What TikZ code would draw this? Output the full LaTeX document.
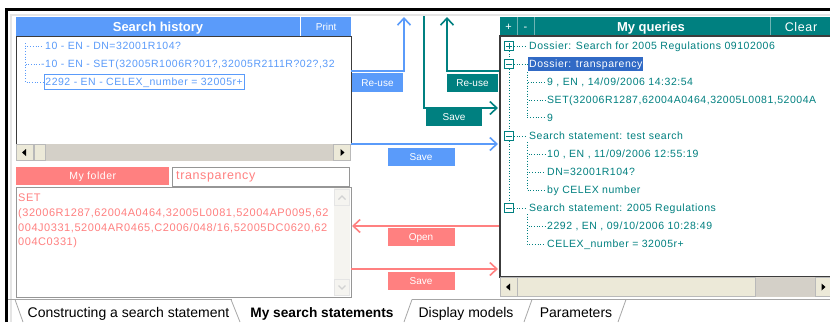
\documentclass[tikz,border=0pt]{standalone}
\usepackage{fontspec}
\setmainfont{Liberation Sans}
\newfontfamily\widesans{Liberation Sans}[LetterSpace=5]
\usetikzlibrary{arrows.meta}

\definecolor{histblue}{RGB}{90,155,250}
\definecolor{qteal}{RGB}{0,128,128}
\definecolor{tealsep}{RGB}{110,180,180}
\definecolor{salmon}{RGB}{255,128,128}
\definecolor{selblue}{RGB}{49,106,197}
\definecolor{wingray}{RGB}{212,208,200}
\definecolor{winbeige}{RGB}{236,233,216}
\definecolor{framegray}{RGB}{60,60,60}
\definecolor{fieldgray}{RGB}{150,150,150}
\definecolor{sbpale}{RGB}{245,244,240}

\tikzset{
  lbl/.style={inner sep=0pt, text height=7.5pt, text depth=0pt},
  histtxt/.style={lbl, anchor=west, text=histblue, font=\widesans\fontsize{10.5}{12}\selectfont},
  qtxt/.style={lbl, anchor=west, text=qteal, font=\widesans\fontsize{10.5}{12}\selectfont},
  foldertxt/.style={lbl, anchor=west, text=salmon, font=\widesans\fontsize{11}{13}\selectfont},
  headtxt/.style={inner sep=0pt, text=white, text height=9.3pt, text depth=0pt, font=\bfseries\fontsize{13}{15}\selectfont},
  smallwhite/.style={inner sep=0pt, text=white, text height=7pt, text depth=0pt, font=\fontsize{10}{12}\selectfont},
  btn/.style={smallwhite, minimum height=18pt},
  bluebtn/.style={btn, fill=histblue},
  tealbtn/.style={btn, fill=qteal},
  redbtn/.style={btn, fill=salmon},
  flow/.style={line width=1.6pt, -{Straight Barb[length=7pt,width=13pt]}},
  treeline/.style={dotted, line width=0.7pt},
  expbox/.style={draw=qteal, fill=white, line width=0.7pt, minimum size=9pt, inner sep=0pt},
  panelframe/.style={draw=framegray, line width=1.2pt},
  sbbtn/.style={draw=gray!55, fill=winbeige, line width=0.6pt, inner sep=0pt},
  tabline/.style={draw=gray!70, line width=0.8pt},
  tabtxt/.style={inner sep=0pt, text height=10pt, text depth=0pt, font=\fontsize{14}{16}\selectfont},
}

\begin{document}
\begin{tikzpicture}[x=1pt,y=-1pt]
\path[use as bounding box, fill=white] (0,0) rectangle (830,322);

% window frame
\draw[gray!20, line width=1.5pt] (11,322) -- (11,15) -- (830,15);
\draw[black, line width=3pt] (6,322) -- (6,9) -- (830,9);

% ---------------- Search history panel ----------------
\node[fill=histblue, minimum width=284pt, minimum height=19pt, inner sep=0pt, anchor=north west] (histHead) at (16,17) {};
\node[headtxt] (histTitle) at (158,26.5) {Search history};
\node[fill=histblue, minimum width=50pt, minimum height=19pt, inner sep=0pt, anchor=north west] (printBtn) at (301,17) {};
\node[smallwhite] (printLbl) at (printBtn.center) {Print};
\node[panelframe, fill=white, minimum width=335pt, minimum height=108pt, inner sep=0pt, anchor=north west] (hist) at (16,36) {};

\node[histtxt] (h1) at (45,46) {10 - EN - DN=32001R104?};
\node[histtxt] (h2) at (41,64) {-10 - EN - SET(32005R1006R?01?,32005R2111R?02?,32};
\node[histtxt, draw=histblue, line width=0.8pt, inner xsep=1.5pt, inner ysep=3.5pt] (h3) at (43.5,82) {2292 - EN - CELEX\_number = 32005r+};
\coordinate (hRoot) at (25,43);
\draw[treeline, histblue] (hRoot) |- ([xshift=-2pt]h1.west);
\draw[treeline, histblue] (hRoot) |- ([xshift=-1pt]h2.west);
\draw[treeline, histblue] (hRoot) |- (h3.west);

% horizontal scrollbar
\fill[wingray] (16,144) rectangle (351,161);
\node[sbbtn, minimum width=17pt, minimum height=16pt] (hsL) at (24.5,152.5) {};
\node[sbbtn, minimum width=11pt, minimum height=16pt] (hsThumb) at (39.5,152.5) {};
\node[sbbtn, minimum width=17pt, minimum height=16pt] (hsR) at (342,152.5) {};
\fill[black] ([xshift=-2.5pt]hsL.center) -- ++(4,-3.5) -- ++(0,7) -- cycle;
\fill[black] ([xshift=2.5pt]hsR.center) -- ++(-4,-3.5) -- ++(0,7) -- cycle;

% ---------------- My folder ----------------
\node[fill=salmon, minimum width=153pt, minimum height=18pt, inner sep=0pt, anchor=north west] (folderBar) at (16,167) {};
\node[smallwhite, font=\widesans\fontsize{10.5}{12}\selectfont] (folderLbl) at (folderBar.center) {My folder};
\node[draw=fieldgray, line width=0.8pt, fill=white, minimum width=177pt, minimum height=19pt, inner sep=0pt, anchor=north west] (folderField) at (172,167) {};
\node[foldertxt, font=\widesans\fontsize{12.5}{14}\selectfont] (folderName) at (176,176) {transparency};

\node[draw=fieldgray, line width=0.9pt, fill=white, minimum width=335pt, minimum height=110pt, inner sep=0pt, anchor=north west] (folderArea) at (16,187) {};
\node[foldertxt] (f1) at (18,198) {SET};
\node[foldertxt] (f2) at (18,212.7) {(32006R1287,62004A0464,32005L0081,52004AP0095,62};
\node[foldertxt] (f3) at (18,227.3) {004J0331,52004AR0465,C2006/048/16,52005DC0620,62};
\node[foldertxt] (f4) at (18,241.7) {004C0331)};
% vertical scrollbar of the text area
\fill[sbpale] (334,188) rectangle (350,296);
\node[draw=gray!20, fill=sbpale, line width=0.6pt, minimum width=15pt, minimum height=16pt, inner sep=0pt] (vsUp) at (342,197.5) {};
\node[draw=gray!20, fill=sbpale, line width=0.6pt, minimum width=15pt, minimum height=16pt, inner sep=0pt] (vsDown) at (342,287.5) {};
\draw[gray!35, line width=1.2pt] ([xshift=-3.5pt,yshift=-2pt]vsUp.center) -- ([yshift=1.5pt]vsUp.center) -- ([xshift=3.5pt,yshift=-2pt]vsUp.center);
\draw[gray!35, line width=1.2pt] ([xshift=-3.5pt,yshift=2pt]vsDown.center) -- ([yshift=-1.5pt]vsDown.center) -- ([xshift=3.5pt,yshift=2pt]vsDown.center);

% ---------------- My queries panel ----------------
\node[fill=qteal, minimum width=330pt, minimum height=19pt, inner sep=0pt, anchor=north west] (qHead) at (500,17) {};
\draw[tealsep, line width=1pt] (517,17) -- (517,36) (534,17) -- (534,36) (770,17) -- (770,36);
\node[smallwhite, font=\fontsize{11}{12}\selectfont] (qPlus) at (508.5,26.5) {+};
\node[smallwhite, font=\fontsize{11}{12}\selectfont] (qMinus) at (525.5,26.5) {-};
\node[headtxt] (qTitle) at (651,26.5) {My queries};
\node[headtxt, font=\widesans\fontsize{12.5}{14}\selectfont] (qClear) at (801,26.5) {Clear};
\fill[white] (500,36) rectangle (830,277);
\draw[framegray, line width=1.2pt] (830,36) -- (500,36) -- (500,277) -- (830,277);

% query tree
\node[expbox] (qe1) at (509,46) {};
\node[expbox] (qe2) at (509,64) {};
\node[expbox] (qe3) at (509,136) {};
\node[expbox] (qe4) at (509,208) {};
\foreach \b in {qe1,qe2,qe3,qe4}
  \draw[qteal, line width=0.8pt] ([xshift=-2.6pt]\b.center) -- ([xshift=2.6pt]\b.center);
\draw[qteal, line width=0.8pt] ([yshift=-2.6pt]qe1.center) -- ([yshift=2.6pt]qe1.center);
\draw[treeline, qteal] (qe1.south) -- (qe2.north) (qe2.south) -- (qe3.north) (qe3.south) -- (qe4.north);

\node[qtxt] (q1) at (529,46) {Dossier: Search for 2005 Regulations 09102006};
\node[qtxt, fill=selblue, text=white, inner xsep=1pt, inner ysep=3.5pt] (q2) at (528,64) {Dossier: transparency};
\node[qtxt] (q21) at (547,82) {9 , EN , 14/09/2006 14:32:54};
\node[qtxt] (q22) at (547,100) {SET(32006R1287,62004A0464,32005L0081,52004A};
\node[qtxt] (q23) at (547,117.5) {9};
\node[qtxt] (q3) at (529,136) {Search statement: test search};
\node[qtxt] (q31) at (547,154) {10 , EN , 11/09/2006 12:55:19};
\node[qtxt] (q32) at (547,172) {DN=32001R104?};
\node[qtxt] (q33) at (547,190) {by CELEX number};
\node[qtxt] (q4) at (529,208) {Search statement: 2005 Regulations};
\node[qtxt] (q41) at (547,226) {2292 , EN , 09/10/2006 10:28:49};
\node[qtxt] (q42) at (547,244) {CELEX\_number = 32005r+};
\draw[treeline, qteal] (qe1.east) -- ([xshift=-2pt]q1.west);
\draw[treeline, qteal] (qe2.east) -- (q2.west);
\draw[treeline, qteal] (qe3.east) -- ([xshift=-2pt]q3.west);
\draw[treeline, qteal] (qe4.east) -- ([xshift=-2pt]q4.west);
\coordinate (qs2) at (527,72);
\coordinate (qs3) at (527,142);
\coordinate (qs4) at (527,214);
\foreach \r/\leaf in {qs2/q21,qs2/q22,qs2/q23,qs3/q31,qs3/q32,qs3/q33,qs4/q41,qs4/q42}
  \draw[treeline, qteal] (\r) |- ([xshift=-2pt]\leaf.west);

% horizontal scrollbar of the query tree
\fill[wingray] (500,277) rectangle (830,297);
\node[sbbtn, minimum width=17pt, minimum height=19pt] (qsL) at (508.5,287) {};
\node[sbbtn, minimum width=238pt, minimum height=19pt] (qsThumb) at (636,287) {};
\node[sbbtn, minimum width=16pt, minimum height=19pt] (qsR) at (823,287) {};
\fill[black] ([xshift=-2.5pt]qsL.center) -- ++(4,-3.5) -- ++(0,7) -- cycle;
\fill[black] ([xshift=2.5pt]qsR.center) -- ++(-4,-3.5) -- ++(0,7) -- cycle;

% ---------------- transfer arrows and their buttons ----------------
\coordinate (hReuseOut) at (351,71);
\coordinate (hReuseTop) at (404,17);
\draw[flow, histblue] (hReuseOut) -| (hReuseTop);
\node[bluebtn, minimum width=51pt, minimum height=19pt] (histReuse) at (377.5,82.5) {Re-use};

\coordinate (qSaveTop) at (424,16);
\coordinate (qSaveIn) at (498,108);
\draw[flow, qteal] (qSaveTop) |- (qSaveIn);
\node[tealbtn, minimum width=56pt] (qSave) at (454,117) {Save};

\coordinate (qReuseOut) at (499,71);
\coordinate (qReuseTop) at (447,17);
\draw[flow, qteal] (qReuseOut) -| (qReuseTop);
\node[tealbtn, minimum width=51pt, minimum height=18pt] (qReuse) at (472.5,82.5) {Re-use};

\coordinate (hSaveOut) at (351,144);
\coordinate (hSaveIn) at (498,144);
\draw[flow, histblue] (hSaveOut) -- (hSaveIn);
\node[bluebtn, minimum width=67pt] (histSave) at (421,157) {Save};

\coordinate (fOpenOut) at (499,226);
\coordinate (fOpenIn) at (352,226);
\draw[flow, salmon] (fOpenOut) -- (fOpenIn);
\node[redbtn, minimum width=67pt] (folderOpen) at (421,237) {Open};

\coordinate (fSaveOut) at (351,269);
\coordinate (fSaveIn) at (498,269);
\draw[flow, salmon] (fSaveOut) -- (fSaveIn);
\node[redbtn, minimum width=67pt] (folderSave) at (421,281) {Save};

% ---------------- tabs ----------------
\draw[tabline] (8,299.5) -- (232,299.5) (412,299.5) -- (830,299.5);
\draw[tabline] (15,299.5) -- (23,322);
\draw[tabline] (231,299.5) -- (240,322);
\draw[tabline] (412,299.5) -- (404,322);
\draw[tabline] (532,299.5) -- (524,322);
\draw[tabline] (626,299.5) -- (618,322);
\node[tabtxt] (tab1) at (128.5,312) {Constructing a search statement};
\node[tabtxt, font=\bfseries\fontsize{13.7}{16}\selectfont] (tab2) at (322,312) {My search statements};
\node[tabtxt] (tab3) at (466,312) {Display models};
\node[tabtxt] (tab4) at (576,312) {Parameters};
\end{tikzpicture}
\end{document}
